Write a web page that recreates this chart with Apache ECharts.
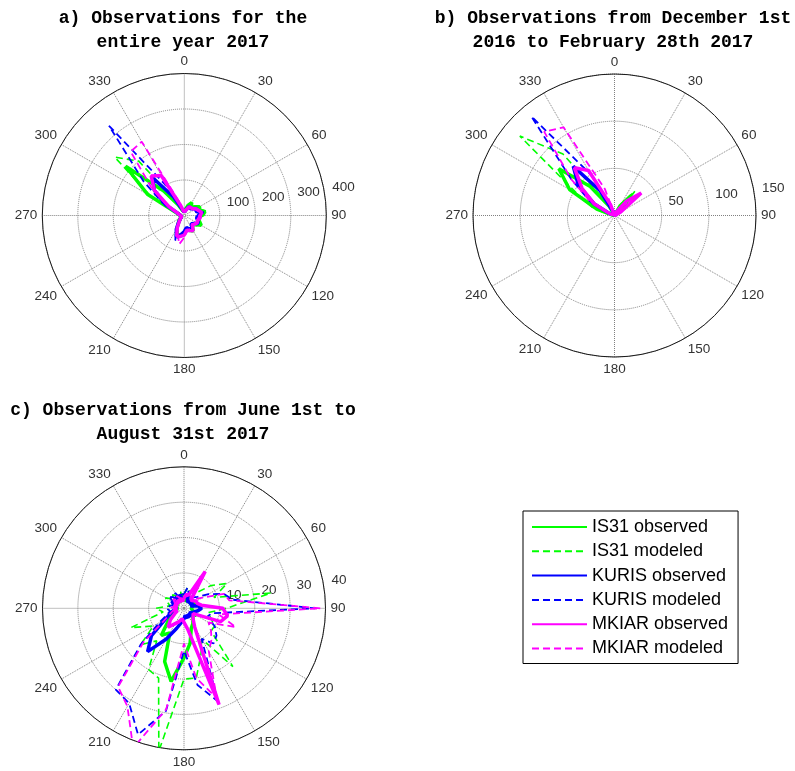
<!DOCTYPE html>
<html>
<head>
<meta charset="utf-8">
<title>Observations - polar plots</title>
<script src="https://cdn.jsdelivr.net/npm/echarts@6/dist/echarts.min.js"></script>
<style>
  html, body { margin: 0; padding: 0; background: #fff; }
  #chart { width: 795px; height: 771px; }
</style>
</head>
<body>
<div id="chart"></div>
<script>
  // azimuth bins (deg, clockwise from north)
  const angles = [0, 10, 20, 30, 40, 50, 60, 70, 80, 90, 100, 110, 120, 130, 140, 150, 160, 170,
    180, 190, 200, 210, 220, 230, 240, 250, 260, 270, 280, 290, 300, 310, 320, 330, 340, 350];
  const angleTicks = [0, 30, 60, 90, 120, 150, 180, 210, 240, 270, 300, 330];

  const seriesNames = ['IS31 observed', 'IS31 modeled', 'KURIS observed', 'KURIS modeled', 'MKIAR observed', 'MKIAR modeled'];

  // a) entire year 2017
  const radiusTicksA = [100, 200, 300, 400];
  const is31ObsA = [12, 15, 30, 42, 30, 38, 50, 45, 60, 48, 40, 45, 55, 40, 35, 50, 45, 40,
    50, 55, 60, 40, 25, 18, 12, 10, 10, 12, 15, 25, 120, 216, 90, 35, 15, 12];
  const is31ModA = [10, 14, 25, 35, 28, 35, 45, 50, 64, 55, 42, 48, 50, 45, 38, 52, 48, 42,
    48, 50, 58, 38, 22, 15, 12, 10, 10, 15, 18, 30, 110, 256, 200, 50, 15, 12];
  const kurisObsA = [10, 12, 20, 30, 25, 30, 40, 35, 45, 40, 35, 40, 45, 35, 30, 45, 40, 35,
    45, 55, 65, 45, 25, 15, 10, 8, 8, 10, 12, 20, 60, 110, 140, 60, 20, 12];
  const kurisModA = [8, 12, 22, 32, 28, 32, 42, 40, 55, 45, 38, 42, 48, 38, 32, 48, 42, 38,
    48, 60, 74, 48, 25, 15, 10, 8, 8, 10, 12, 25, 70, 150, 330, 90, 20, 12];
  const mkiarObsA = [10, 12, 18, 28, 25, 30, 38, 40, 50, 45, 45, 40, 42, 38, 35, 50, 45, 42,
    55, 60, 62, 40, 22, 15, 10, 8, 8, 10, 12, 20, 50, 110, 145, 130, 30, 12];
  const mkiarModA = [8, 10, 18, 25, 22, 28, 35, 38, 48, 42, 40, 38, 40, 35, 32, 45, 42, 45,
    62, 82, 55, 35, 20, 12, 10, 8, 8, 10, 12, 20, 55, 120, 235, 240, 40, 12];

  // b) Dec 1st 2016 - Feb 28th 2017
  const radiusTicksB = [50, 100, 150];
  const is31ObsB = [0, 0, 2, 12, 28, 10, 2, 0, 0, 0, 0, 0, 0, 0, 0, 0, 0, 0,
    0, 0, 0, 0, 0, 0, 0, 0, 0, 0, 2, 20, 55, 77, 40, 12, 2, 0];
  const is31ModB = [0, 0, 4, 15, 34, 8, 1, 0, 0, 0, 0, 0, 0, 0, 0, 0, 0, 0,
    0, 0, 0, 0, 0, 0, 0, 0, 0, 1, 5, 25, 45, 131, 85, 15, 2, 0];
  const kurisObsB = [0, 0, 1, 4, 10, 5, 1, 0, 0, 0, 0, 0, 0, 0, 0, 0, 0, 0,
    0, 0, 0, 0, 0, 0, 0, 0, 0, 0, 1, 5, 25, 50, 68, 30, 4, 0];
  const kurisModB = [0, 0, 2, 8, 22, 8, 1, 0, 0, 0, 0, 0, 0, 0, 0, 0, 0, 0,
    0, 0, 0, 0, 0, 0, 0, 0, 0, 0, 2, 8, 30, 60, 137, 50, 8, 0];
  const mkiarObsB = [0, 0, 1, 5, 20, 37, 8, 1, 0, 0, 0, 0, 0, 0, 0, 0, 0, 0,
    0, 0, 0, 0, 0, 0, 0, 0, 0, 0, 1, 5, 25, 45, 66, 55, 12, 0];
  const mkiarModB = [0, 0, 2, 6, 14, 25, 4, 0, 0, 0, 0, 0, 0, 0, 0, 0, 0, 0,
    0, 0, 0, 0, 0, 0, 0, 0, 0, 0, 2, 6, 30, 60, 116, 108, 30, 3];

  // c) June 1st - August 31st 2017
  const radiusTicksC = [10, 20, 30, 40];
  const is31ObsC = [3, 2, 3, 2, 3, 2, 4, 3, 3, 2, 2, 3, 4, 3, 4, 5, 6, 10,
    14, 21, 16, 8, 10, 6, 4, 3, 2, 2, 2, 3, 2, 2, 3, 2, 3, 4];
  const is31ModC = [4, 6, 5, 8, 6, 10, 14, 9, 25, 12, 7, 8, 10, 10, 21.5, 10, 14, 20,
    20, 41, 21, 20, 12, 16, 10, 16, 6, 8, 4, 5, 6, 4, 5, 4, 3, 5];
  const kurisObsC = [3, 4, 3, 2, 3, 2, 3, 2, 4, 5, 4, 3, 3, 2, 3, 2, 3, 2,
    3, 4, 6, 10, 16, 12, 6, 4, 3, 3, 2, 3, 4, 3, 4, 3, 4, 3];
  const kurisModC = [4, 6, 4, 3, 4, 5, 8, 12, 14, 37, 8, 7, 10, 12, 13, 10, 28, 22,
    12, 29.5, 38, 31, 30, 16, 8, 5, 4, 5, 4, 3, 4, 5, 4, 5, 3, 4];
  const mkiarObsC = [3, 4, 4, 12, 3, 3, 4, 4, 5, 11, 12.5, 11, 3, 3, 4, 6, 29, 6,
    4, 3, 4, 5, 7, 5, 3, 2, 3, 2, 3, 2, 3, 2, 3, 2, 3, 2];
  const mkiarModC = [3, 4, 3, 4, 3, 4, 6, 12, 13, 38.6, 10, 15.6, 8, 10, 12, 14, 27, 20,
    10, 29, 42, 32, 29, 15, 6, 4, 3, 4, 3, 2, 3, 4, 3, 4, 3, 2];

  const titleA = 'a) Observations for the\nentire year 2017';
  const titleB = 'b) Observations from December 1st\n2016 to February 28th 2017';
  const titleC = 'c) Observations from June 1st to\nAugust 31st 2017';

  // line look for each of the 6 series
  const lineStyles = [
    {color: '#00ff00', width: 3.5, type: 'solid'},
    {color: '#00ff00', width: 1.6, type: [7, 4]},
    {color: '#0000ff', width: 3.5, type: 'solid'},
    {color: '#0000ff', width: 1.8, type: [7, 4]},
    {color: '#ff00ff', width: 3.5, type: 'solid'},
    {color: '#ff00ff', width: 1.8, type: [7, 4]}
  ];

  const panels = [
    {center: [184.3, 215.5], radius: 142, ticks: radiusTicksA, title: titleA, titleX: 183, titleY: 7,
      values: [is31ObsA, is31ModA, kurisObsA, kurisModA, mkiarObsA, mkiarModA]},
    {center: [614.5, 215.5], radius: 141.5, ticks: radiusTicksB, title: titleB, titleX: 613, titleY: 7,
      values: [is31ObsB, is31ModB, kurisObsB, kurisModB, mkiarObsB, mkiarModB]},
    {center: [184, 608.3], radius: 141.5, ticks: radiusTicksC, title: titleC, titleX: 183, titleY: 399,
      values: [is31ObsC, is31ModC, kurisObsC, kurisModC, mkiarObsC, mkiarModC]}
  ];

  function polarPoints (values) {
    const pts = values.map((v, i) => [v, angles[i]]);
    pts.push([values[0], 360]); // close the curve
    return pts;
  }

  const labelFont = 'Liberation Sans';
  const polar = [], angleAxis = [], radiusAxis = [], series = [], graphic = [];

  panels.forEach((p, i) => {
    const rMax = p.ticks[p.ticks.length - 1];
    const step = p.ticks[0];

    // main polar: grid, spokes and the data
    polar.push({center: p.center, radius: p.radius});
    angleAxis.push({
      polarIndex: 2 * i,
      type: 'value',
      min: 0,
      max: 360,
      interval: angleTicks[1] - angleTicks[0],
      startAngle: 90,
      clockwise: true,
      axisLine: {lineStyle: {color: '#1a1a1a', width: 1}},
      axisTick: {show: false},
      axisLabel: {color: '#333', fontSize: 13.5, fontFamily: labelFont, margin: 5},
      splitLine: {lineStyle: {color: '#808080', type: 'dotted', width: 1}}
    });
    radiusAxis.push({
      polarIndex: 2 * i,
      min: 0,
      max: rMax,
      interval: step,
      axisLine: {show: false},
      axisTick: {show: false},
      axisLabel: {show: false},
      splitLine: {lineStyle: {color: '#808080', type: 'dotted', width: 1}}
    });

    // second polar only to put the ring labels at ~82 deg like matlab
    polar.push({center: p.center, radius: p.radius});
    angleAxis.push({polarIndex: 2 * i + 1, type: 'value', min: 0, max: 360, startAngle: 8, show: false});
    radiusAxis.push({
      polarIndex: 2 * i + 1,
      min: 0,
      max: rMax,
      interval: step,
      axisLine: {show: false},
      axisTick: {show: false},
      splitLine: {show: false},
      axisLabel: {
        color: '#333',
        fontSize: 13.5,
        fontFamily: labelFont,
        rotate: 0,
        margin: 1,
        align: 'left',
        verticalAlign: 'bottom',
        formatter: (v) => (v === 0 ? '' : '  ' + v)
      }
    });

    p.values.forEach((vals, k) => {
      series.push({
        type: 'line',
        name: seriesNames[k],
        coordinateSystem: 'polar',
        polarIndex: 2 * i,
        data: polarPoints(vals),
        symbol: 'none',
        clip: false,
        color: lineStyles[k].color,
        lineStyle: lineStyles[k],
        z: 3 + k
      });
    });

    graphic.push({
      type: 'text',
      x: p.titleX,
      y: p.titleY,
      style: {
        text: p.title,
        fill: '#000',
        fontSize: 18,
        fontWeight: 'bold',
        fontFamily: 'Liberation Mono',
        lineHeight: 23.5,
        align: 'center',
        verticalAlign: 'top'
      }
    });
  });

  const chart = echarts.init(document.getElementById('chart'));
  chart.setOption({
    animation: false,
    backgroundColor: '#fff',
    polar: polar,
    angleAxis: angleAxis,
    radiusAxis: radiusAxis,
    legend: {
      orient: 'vertical',
      left: 523,
      top: 511,
      padding: [4, 10, 3, 8],
      itemWidth: 55,
      itemHeight: 14,
      itemGap: 0.3,
      borderColor: '#000',
      borderWidth: 1,
      selectedMode: false,
      itemStyle: {opacity: 0},
      textStyle: {fontSize: 18, fontFamily: labelFont, color: '#000', lineHeight: 24},
      data: seriesNames
    },
    graphic: graphic,
    series: series
  });
</script>
</body>
</html>
